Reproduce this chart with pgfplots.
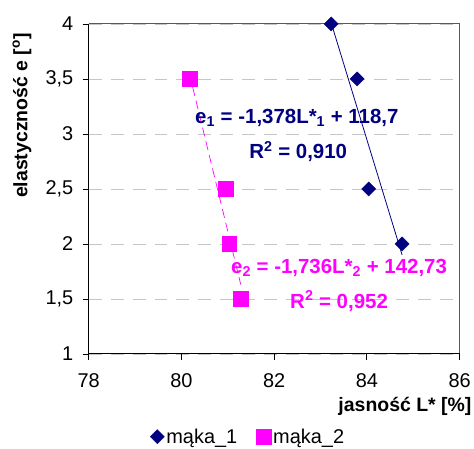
\documentclass[border=0pt]{standalone}
\usepackage{pgfplots}
\pgfplotsset{compat=1.18}
\usepackage{fontspec}
\setmainfont{Liberation Sans}
\definecolor{navyc}{RGB}{0,0,128}
\definecolor{magc}{RGB}{255,0,255}
\begin{document}
\begin{tikzpicture}
\path (-89bp,-94bp) rectangle (385bp,355bp);
\begin{axis}[
  scale only axis, width=372bp, height=331bp,
  at={(0,0)}, anchor=south west,
  xmin=78, xmax=86, ymin=1, ymax=4,
  xtick={78,80,...,86}, ytick={1,1.5,...,4},
  /pgf/number format/assume math mode=true,
  /pgf/number format/use comma,
  yticklabel style={/pgf/number format/fixed,/pgf/number format/precision=1, font=\fontsize{20bp}{22bp}\selectfont, xshift=-6bp},
  xticklabel style={font=\fontsize{20bp}{22bp}\selectfont, yshift=-10bp},
  tick align=outside, major tick length=6bp,
  tick style={black, line width=0.8pt},
  xtick pos=bottom, ytick pos=left,
  axis line style={draw=none},
  ymajorgrids, grid style={gray!45, dash pattern=on 13bp off 9bp, line width=0.7pt},
  clip=false,
  xlabel={\bfseries jasność L* [\%]},
  xlabel style={at={(axis description cs:1,0)}, anchor=north east, inner sep=0pt, xshift=12bp, yshift=-43bp, font=\fontsize{19.5bp}{21bp}\selectfont},
  ylabel={\bfseries elastyczność e [\textsuperscript{o}]},
  ylabel style={at={(axis description cs:-0.18,0.722)}, anchor=center, font=\fontsize{19.5bp}{21bp}\selectfont},
  legend columns=2,
  legend style={at={(axis description cs:0.43,0)}, anchor=center, yshift=-83bp, draw=none, fill=none, font=\fontsize{20bp}{22bp}\selectfont, /tikz/every even column/.append style={column sep=17bp}},
  legend cell align=left,
]
% frame: left/bottom black, top/right gray
\draw[gray!70!black, line width=0.9pt] (rel axis cs:0,1) -- (rel axis cs:1,1) -- (rel axis cs:1,0);
\draw[black, line width=1pt] (rel axis cs:0,1) -- (rel axis cs:0,0) -- (rel axis cs:1,0);
\addplot[only marks, mark=square*, mark size=5bp, color=navyc, mark options={fill=navyc, rotate=45}]
  coordinates {(83.23,4) (83.79,3.5) (84.04,2.5) (84.76,2)};
\addlegendentry{mąka\_1}
\addplot[only marks, mark=square*, mark size=7.5bp, color=magc, mark options={fill=magc}]
  coordinates {(80.17,3.5) (80.96,2.5) (81.03,2) (81.28,1.5)};
\addlegendentry{mąka\_2}
\addplot[navyc, line width=0.8pt, forget plot] coordinates {(83.23,4.01) (84.76,1.90)};
\addplot[magc, line width=0.7pt, dash pattern=on 9bp off 5bp, forget plot] coordinates {(80.17,3.55) (81.28,1.63)};
\node[navyc, font=\bfseries\fontsize{20.5bp}{22bp}\selectfont] at (axis cs:82.49,3.149) {e\textsubscript{1} = -1,378L*\textsubscript{1} + 118,7};
\node[navyc, font=\bfseries\fontsize{20.5bp}{22bp}\selectfont] at (axis cs:82.52,2.84) {R\textsuperscript{2} = 0,910};
\node[magc, font=\bfseries\fontsize{20.5bp}{22bp}\selectfont] at (axis cs:83.40,1.78) {e\textsubscript{2} = -1,736L*\textsubscript{2} + 142,73};
\node[magc, font=\bfseries\fontsize{20.5bp}{22bp}\selectfont] at (axis cs:83.40,1.482) {R\textsuperscript{2} = 0,952};
\end{axis}
\end{tikzpicture}
\end{document}
